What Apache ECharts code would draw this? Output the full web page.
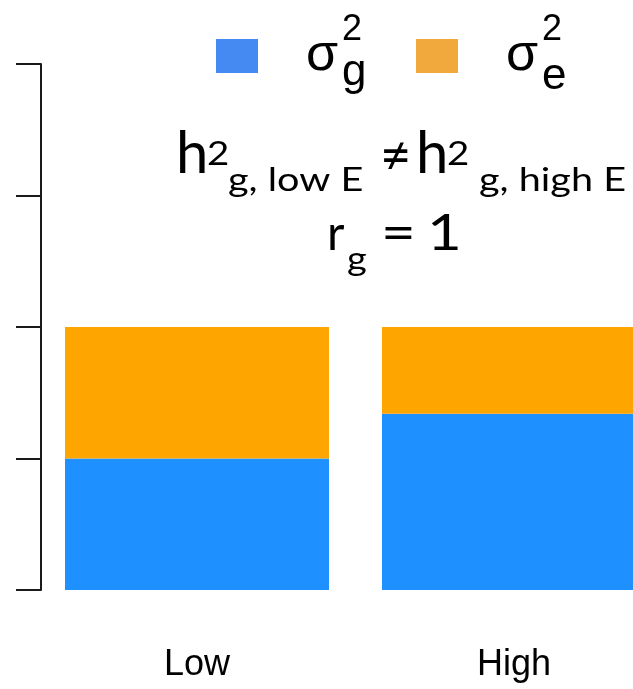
<!DOCTYPE html>
<html>
<head>
<meta charset="utf-8">
<script src="https://cdn.jsdelivr.net/npm/echarts@6/dist/echarts.min.js"></script>
<style>
  html, body { margin: 0; padding: 0; background: #fff; }
  #chart { width: 633px; height: 689px; }
</style>
</head>
<body>
<div id="chart"></div>
<script>
// ---- data ----
const categories = ['Low', 'High'];
const geneticVar = [1.0, 1.34];      // σ²_g
const environmentVar = [1.0, 0.66];  // σ²_e
const seriesNames = ['σg²', 'σe²'];
const yMin = 0, yMax = 4, yStep = 1;

// ---- styles ----
const BLUE = '#1E90FF', ORANGE = '#FFA500';
const LEG_BLUE = '#4589F3', LEG_ORANGE = '#F1A83C';
const TITLE_FONT = 'Lato, "Open Sans", sans-serif';
const ARIAL = '"Liberation Sans", Arial, sans-serif';

function txt(text, x, baseline, size, family, scaleX, midRatio) {
  return {
    type: 'text', x: x, y: baseline - midRatio * size, scaleX: scaleX || 1,
    style: { text: text, fontSize: size, fontFamily: family, fill: '#000',
             align: 'left', verticalAlign: 'middle' },
    z: 100
  };
}
const LR = 0.387, AR = 0.3465;

const chart = echarts.init(document.getElementById('chart'), null, { renderer: 'canvas' });
chart.setOption({
  animation: false,
  backgroundColor: '#fff',
  grid: { left: 38.5, top: 64, width: 634, bottom: 99, containLabel: false, outerBoundsMode: 'none' },
  legend: {
    left: 211, top: 25, itemWidth: 42, itemHeight: 34, itemGap: 50, icon: 'rect',
    selectedMode: false,
    data: [
      { name: seriesNames[0], itemStyle: { color: LEG_BLUE } },
      { name: seriesNames[1], itemStyle: { color: LEG_ORANGE } }
    ],
    formatter: function () { return '{s|σ}'; },
    textStyle: {
      rich: { s: { fontSize: 52, fontFamily: ARIAL, color: '#000', lineHeight: 34,
                   padding: [0, 0, 0, 43], width: 60 } }
    }
  },
  xAxis: {
    type: 'category', data: categories,
    axisLine: { show: false }, axisTick: { show: false },
    axisLabel: { fontSize: 36, fontFamily: ARIAL, color: '#000', margin: 57 }
  },
  yAxis: {
    type: 'value', min: yMin, max: yMax, interval: yStep, offset: -2.5,
    axisLine: { show: true, lineStyle: { color: '#1a1a1a', width: 2 } },
    axisTick: { show: true, length: 25, lineStyle: { color: '#1a1a1a', width: 2 } },
    axisLabel: { show: false }, splitLine: { show: false }
  },
  series: [
    { name: seriesNames[0], type: 'bar', stack: 'v', data: geneticVar, barWidth: 264,
      itemStyle: { color: BLUE } },
    { name: seriesNames[1], type: 'bar', stack: 'v', data: environmentVar, barWidth: 264,
      itemStyle: { color: ORANGE } }
  ],
  graphic: [
    // legend super/subscripts
    txt('2', 342, 43, 36, ARIAL, 1, AR),
    txt('g', 342, 88, 44, ARIAL, 1, AR),
    txt('2', 542, 43, 36, ARIAL, 1, AR),
    txt('e', 542, 92, 44, ARIAL, 1, AR),
    // title line 1
    txt('h', 176, 177, 58, TITLE_FONT, 1, LR),
    txt('2', 207, 167, 32, TITLE_FONT, 1.2, LR),
    txt('g, low E', 228, 193, 33, TITLE_FONT, 1.2, LR),
    txt('≠', 380, 177, 54, TITLE_FONT, 1, LR),
    txt('h', 416, 177, 58, TITLE_FONT, 1, LR),
    txt('2', 447, 167, 32, TITLE_FONT, 1.2, LR),
    txt('g, high E', 479, 193, 33, TITLE_FONT, 1.2, LR),
    // title line 2
    txt('r', 327, 253, 48, TITLE_FONT, 1, LR),
    txt('g', 347, 272, 33, TITLE_FONT, 1.15, LR),
    txt('=', 381, 253, 50, TITLE_FONT, 1.2, LR),
    txt('1', 427, 253, 50, TITLE_FONT, 1.2, LR)
  ]
});
</script>
</body>
</html>
